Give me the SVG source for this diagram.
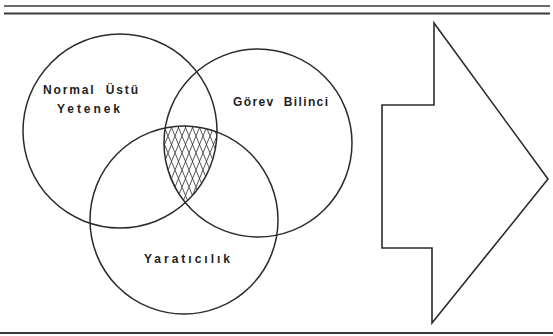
<svg xmlns="http://www.w3.org/2000/svg" width="553" height="336" viewBox="0 0 553 336">
<style>
.c{fill:none;stroke:#2b2b2b;stroke-width:1.5}
.rule{stroke:#3a3a3a;fill:none}
.t{font-family:"Liberation Sans",Arial,sans-serif;font-weight:bold;font-size:12px;fill:#1e1e1e}
</style>
<defs>
<pattern id="hatch" patternUnits="userSpaceOnUse" width="7" height="17">
<path d="M0,0 L7,17 M7,0 L0,17 M-7,0 L0,17 M7,0 L14,17" stroke="#2b2b2b" stroke-width="0.8" fill="none"/>
</pattern>
<clipPath id="k1"><circle cx="120" cy="131" r="97"/></clipPath>
<clipPath id="k2"><circle cx="258" cy="143" r="94"/></clipPath>
<clipPath id="k3"><circle cx="184" cy="220" r="94"/></clipPath>
</defs>
<rect width="553" height="336" fill="#ffffff"/>
<g id="frame">
<line class="rule" x1="4" y1="6" x2="550" y2="6" stroke-width="1.6"/>
<line class="rule" x1="4" y1="13.5" x2="550" y2="13.5" stroke-width="2.2"/>
<line class="rule" x1="0" y1="333" x2="553" y2="333" stroke-width="2"/>
</g>
<g id="overlap">
<g clip-path="url(#k1)"><g clip-path="url(#k2)"><g clip-path="url(#k3)">
<rect x="150" y="100" width="120" height="120" fill="url(#hatch)"/>
</g></g></g>
</g>
<g id="normal-ustu-yetenek">
<circle class="c" cx="120" cy="131" r="97"/>
<text class="t" x="43" y="94" textLength="95" lengthAdjust="spacing" xml:space="preserve">Normal  Üstü</text>
<text class="t" x="57" y="113" textLength="63" lengthAdjust="spacing">Yetenek</text>
</g>
<g id="gorev-bilinci">
<circle class="c" cx="258" cy="143" r="94"/>
<text class="t" x="233" y="106" textLength="95" lengthAdjust="spacing" xml:space="preserve">Görev  Bilinci</text>
</g>
<g id="yaraticilik">
<circle class="c" cx="184" cy="220" r="94"/>
<text class="t" x="144" y="263" textLength="86" lengthAdjust="spacing">Yaratıcılık</text>
</g>
<g id="arrow">
<polygon points="434,23 548,179 432,323 432,248 382,248 382,105 434,105" fill="none" stroke="#2b2b2b" stroke-width="1.6" stroke-linejoin="miter"/>
</g>
<g id="connectors"/>
</svg>
